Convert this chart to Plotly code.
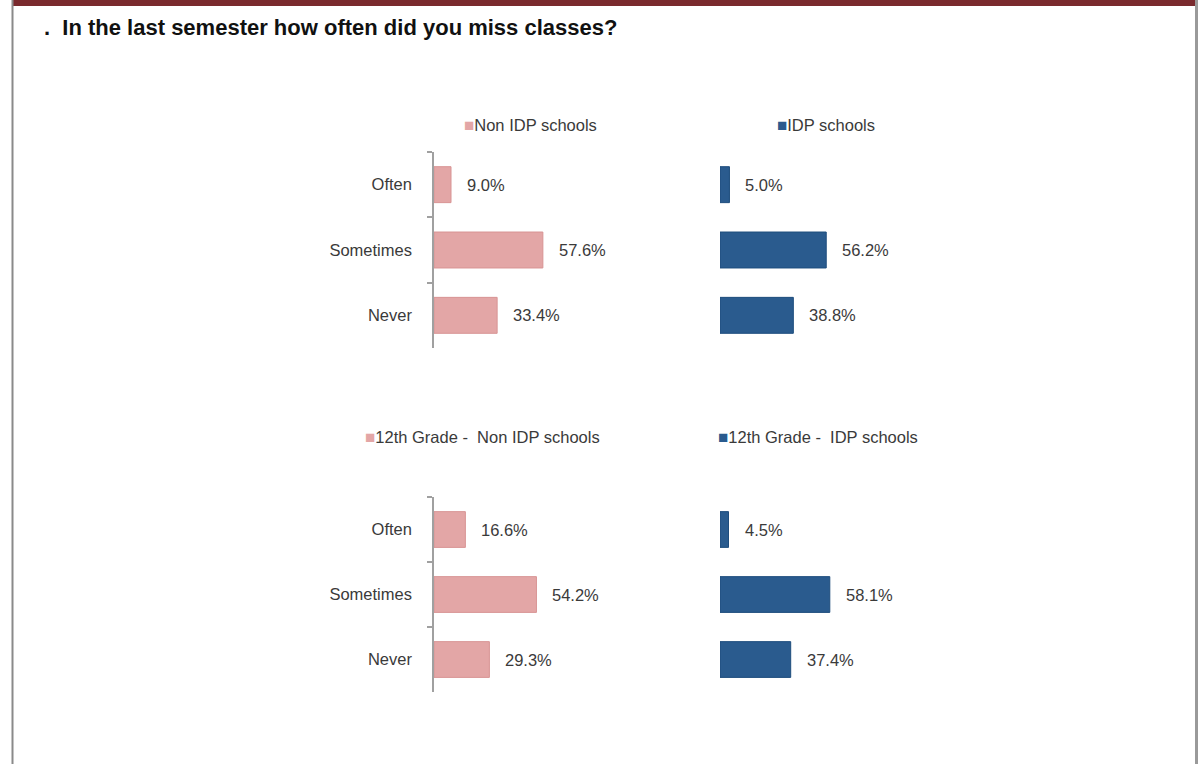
import plotly.graph_objects as go

W, H = 1203, 764

categories = ["Often", "Sometimes", "Never"]
non_idp = [9.0, 57.6, 33.4]
idp = [5.0, 56.2, 38.8]
g12_non_idp = [16.6, 54.2, 29.3]
g12_idp = [4.5, 58.1, 37.4]

series_names = ["Non IDP schools", "IDP schools",
                "12th Grade -  Non IDP schools", "12th Grade -  IDP schools"]
title_text = ".&nbsp;&nbsp;In the last semester how often did you miss classes?"

PINK = "#E3A6A6"
PINK_EDGE = "#D89494"
BLUE = "#2A5B8E"
BLUE_EDGE = "#1E4D7D"
TXT = "#3A3A3A"
FONT = "Liberation Sans, Arial, sans-serif"
FS = 16.5


def xd(a, b):
    return [a / W, b / W]


def yd(top, bot):
    return [1 - bot / H, 1 - top / H]


# panel layout in pixels: (x0, x1, ytop, ybot)
panels = [
    (434, 623, 152, 348),
    (720, 909, 152, 348),
    (434, 623, 497, 692),
    (720, 909, 497, 692),
]
data_sets = [non_idp, idp, g12_non_idp, g12_idp]
colors = [(PINK, PINK_EDGE), (BLUE, BLUE_EDGE), (PINK, PINK_EDGE), (BLUE, BLUE_EDGE)]

fig = go.Figure()
layout = {}
annotations = []

for i, (vals, (fc, ec), (x0, x1, yt, yb)) in enumerate(zip(data_sets, colors, panels)):
    n = "" if i == 0 else str(i + 1)
    fig.add_trace(go.Bar(
        x=vals, y=categories, orientation="h",
        name=series_names[i],
        marker=dict(color=fc, line=dict(color=ec, width=1)),
        width=0.55, xaxis="x" + n, yaxis="y" + n,
        showlegend=False, hoverinfo="x+y",
    ))
    left = i in (0, 2)
    layout["xaxis" + n] = dict(domain=xd(x0, x1), range=[0, 100], visible=False,
                               anchor="y" + n, fixedrange=True)
    layout["yaxis" + n] = dict(
        domain=yd(yt, yb), anchor="x" + n, type="category",
        categoryorder="array", categoryarray=categories, autorange="reversed",
        showline=left, linecolor="#A0A0A0", linewidth=1.5,
        ticks="outside" if left else "", tickson="boundaries", ticklen=5,
        tickcolor="#A0A0A0", tickwidth=1.5,
        showticklabels=left, ticklabelstandoff=17,
        tickfont=dict(family=FONT, size=FS, color=TXT),
        showgrid=False, zeroline=False, fixedrange=True,
    )
    for c, v in zip(categories, vals):
        annotations.append(dict(
            x=v, y=c, xref="x" + n, yref="y" + n, text=f"{v:.1f}%",
            showarrow=False, xanchor="left", xshift=14,
            font=dict(family=FONT, size=FS, color=TXT),
        ))

# legend-like labels above each panel
legend_pos = [(530, 125), (826, 125), (482, 437), (818, 437)]
for i, (lx, ly) in enumerate(legend_pos):
    col = PINK if i in (0, 2) else BLUE
    annotations.append(dict(
        x=lx / W, y=1 - ly / H, xref="paper", yref="paper",
        text=f"<span style='color:{col};font-size:17px'>■</span>{series_names[i]}",
        showarrow=False, xanchor="center", yanchor="middle",
        font=dict(family=FONT, size=FS, color=TXT),
    ))

annotations.append(dict(
    x=42 / W, y=1 - 28 / H, xref="paper", yref="paper", text=f"<b>{title_text}</b>",
    showarrow=False, xanchor="left", yanchor="middle",
    font=dict(family=FONT, size=22, color="#111111"),
))

shapes = [
    dict(type="rect", xref="paper", yref="paper", x0=12 / W, x1=1197 / W,
         y0=1 - 6 / H, y1=1, fillcolor="#7A2A2E", line=dict(width=0), layer="above"),
    dict(type="line", xref="paper", yref="paper", x0=12.5 / W, x1=12.5 / W,
         y0=0, y1=1, line=dict(color="#8A8A8A", width=2)),
    dict(type="line", xref="paper", yref="paper", x0=1196.5 / W, x1=1196.5 / W,
         y0=0, y1=1, line=dict(color="#9A9A9A", width=3)),
]

fig.update_layout(
    width=W, height=H, margin=dict(l=0, r=0, t=0, b=0),
    paper_bgcolor="white", plot_bgcolor="white",
    annotations=annotations, shapes=shapes, showlegend=False,
    **layout,
)

fig.write_html("out.html", config={"displayModeBar": False},
               post_script="document.body.style.margin='0';document.body.style.overflow='hidden';")
